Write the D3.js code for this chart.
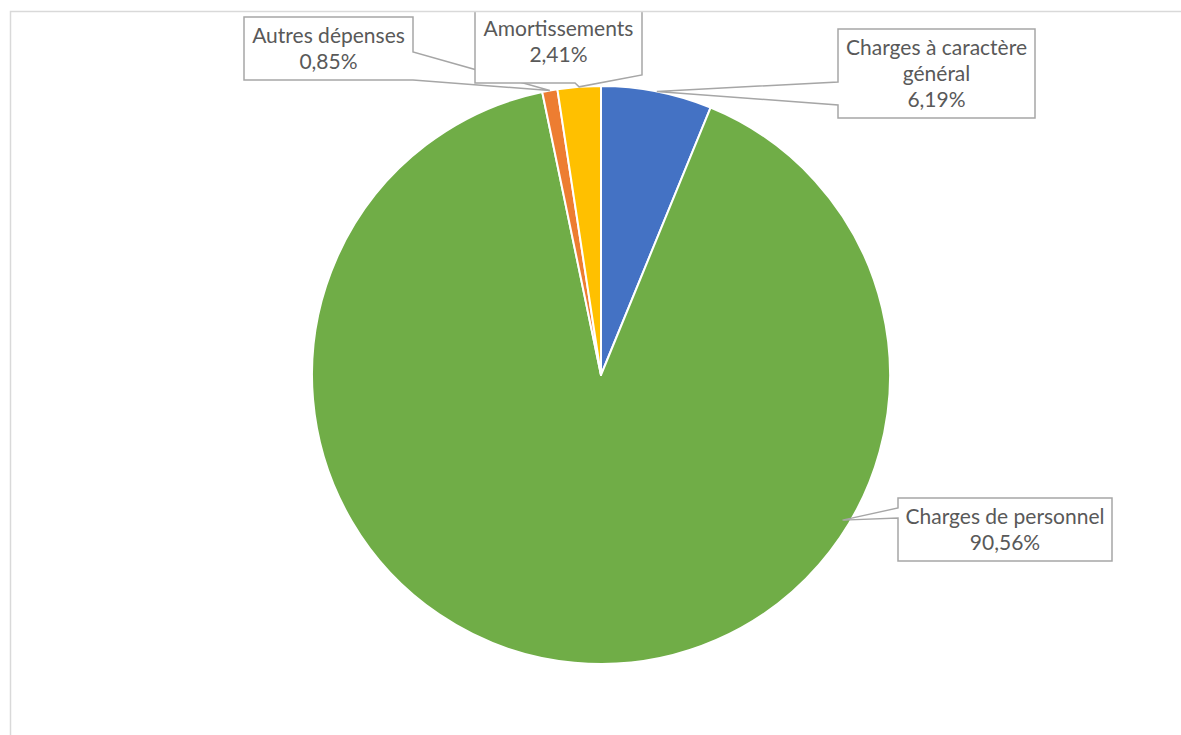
<!DOCTYPE html>
<html>
<head>
<meta charset="utf-8">
<script src="https://cdn.jsdelivr.net/npm/d3@7"></script>
<style>
    html, body { margin: 0; padding: 0; background: #fff; }
    svg { display: block; }
    .callout-text { font-family: Lato, "Open Sans", sans-serif; fill: #595959; }
</style>
</head>
<body>
<svg id="chart" width="1181" height="735"></svg>
<script>
    // data
    var categories = ['Charges à caractère général', 'Charges de personnel', 'Autres dépenses', 'Amortissements'];
    var values = [6.19, 90.56, 0.85, 2.41];
    var labelLines = [
        ['Charges à caractère', 'général', '6,19%'],
        ['Charges de personnel', '90,56%'],
        ['Autres dépenses', '0,85%'],
        ['Amortissements', '2,41%']
    ];
    var colors = ['#4472c4', '#70ad47', '#ed7d31', '#ffc000'];

    // callout layout: box, wedge base as perimeter positions (clockwise from top-left),
    // optional tip angle/radius override (Excel places the big slice's pointer elsewhere)
    var callouts = [
        { box: { x: 838, y: 29, w: 197, h: 89 }, base: [496, 519], tipAngle: null, tipR: 1.0 },
        { box: { x: 898, y: 498, w: 214, h: 63 }, base: [534, 544], tipAngle: 121, tipR: 0.975 },
        { box: { x: 244, y: 17, w: 169, h: 63 }, base: [204, 232], tipAngle: null, tipR: 1.0 },
        { box: { x: 475, y: -1, w: 167, h: 84 }, base: [243, 318], tipAngle: null, tipR: 1.0 }
    ];

    var width = 1181, height = 735;
    var cx = 601, cy = 375, radius = 289;
    var fontSize = 21, lineHeight = 26;

    var svg = d3.select('#chart');

    // chart area clip + border
    svg.append('defs').append('clipPath').attr('id', 'area')
        .append('rect').attr('x', 10).attr('y', 11).attr('width', width).attr('height', height);

    var root = svg.append('g').attr('clip-path', 'url(#area)');

    var pie = d3.pie().sort(null).value(function(d) { return d; });
    var arcs = pie(values);
    var arc = d3.arc().innerRadius(0).outerRadius(radius);

    var g = root.append('g').attr('transform', 'translate(' + cx + ',' + cy + ')');
    g.selectAll('path.slice')
        .data(arcs)
        .enter().append('path')
        .attr('class', 'slice')
        .attr('d', arc)
        .attr('fill', function(d, i) { return colors[i]; })
        .attr('stroke', '#fff')
        .attr('stroke-width', 2)
        .attr('stroke-linejoin', 'round');

    function perimPoint(b, t) {
        if (t <= b.w) return [b.x + t, b.y];
        t -= b.w;
        if (t <= b.h) return [b.x + b.w, b.y + t];
        t -= b.h;
        if (t <= b.w) return [b.x + b.w - t, b.y + b.h];
        t -= b.w;
        return [b.x, b.y + b.h - t];
    }

    function calloutPath(c, tip) {
        var b = c.box;
        var corners = [[0, b.x, b.y], [b.w, b.x + b.w, b.y], [b.w + b.h, b.x + b.w, b.y + b.h],
            [2 * b.w + b.h, b.x, b.y + b.h]];
        var pts = [];
        corners.forEach(function(k) { if (k[0] < c.base[0]) pts.push([k[1], k[2]]); });
        pts.push(perimPoint(b, c.base[0]));
        pts.push(tip);
        pts.push(perimPoint(b, c.base[1]));
        corners.forEach(function(k) { if (k[0] > c.base[1]) pts.push([k[1], k[2]]); });
        return d3.line()(pts) + 'Z';
    }

    var labels = root.append('g').attr('class', 'callouts');
    arcs.forEach(function(d, i) {
        var c = callouts[i];
        var a = c.tipAngle !== null ? c.tipAngle * Math.PI / 180 : (d.startAngle + d.endAngle) / 2;
        var r = radius * c.tipR;
        var tip = [cx + r * Math.sin(a), cy - r * Math.cos(a)];

        labels.append('path')
            .attr('d', calloutPath(c, tip))
            .attr('fill', '#fff')
            .attr('stroke', '#a6a6a6')
            .attr('stroke-width', 1.5)
            .attr('stroke-linejoin', 'miter');

        var lines = labelLines[i];
        var midY = c.box.y + c.box.h / 2;
        var firstBase = midY - (lines.length - 1) * lineHeight / 2 + fontSize * 0.36;
        var t = labels.append('text')
            .attr('class', 'callout-text')
            .attr('text-anchor', 'middle')
            .style('font-size', fontSize + 'px');
        lines.forEach(function(line, j) {
            t.append('tspan')
                .attr('x', c.box.x + c.box.w / 2)
                .attr('y', firstBase + j * lineHeight)
                .text(line);
        });
    });

    // outer chart border (only top/left visible in the frame)
    svg.append('rect')
        .attr('x', 10.5).attr('y', 11.5)
        .attr('width', width + 20).attr('height', height + 20)
        .attr('fill', 'none')
        .attr('stroke', '#d9d9d9')
        .attr('stroke-width', 1.5);
</script>
</body>
</html>
